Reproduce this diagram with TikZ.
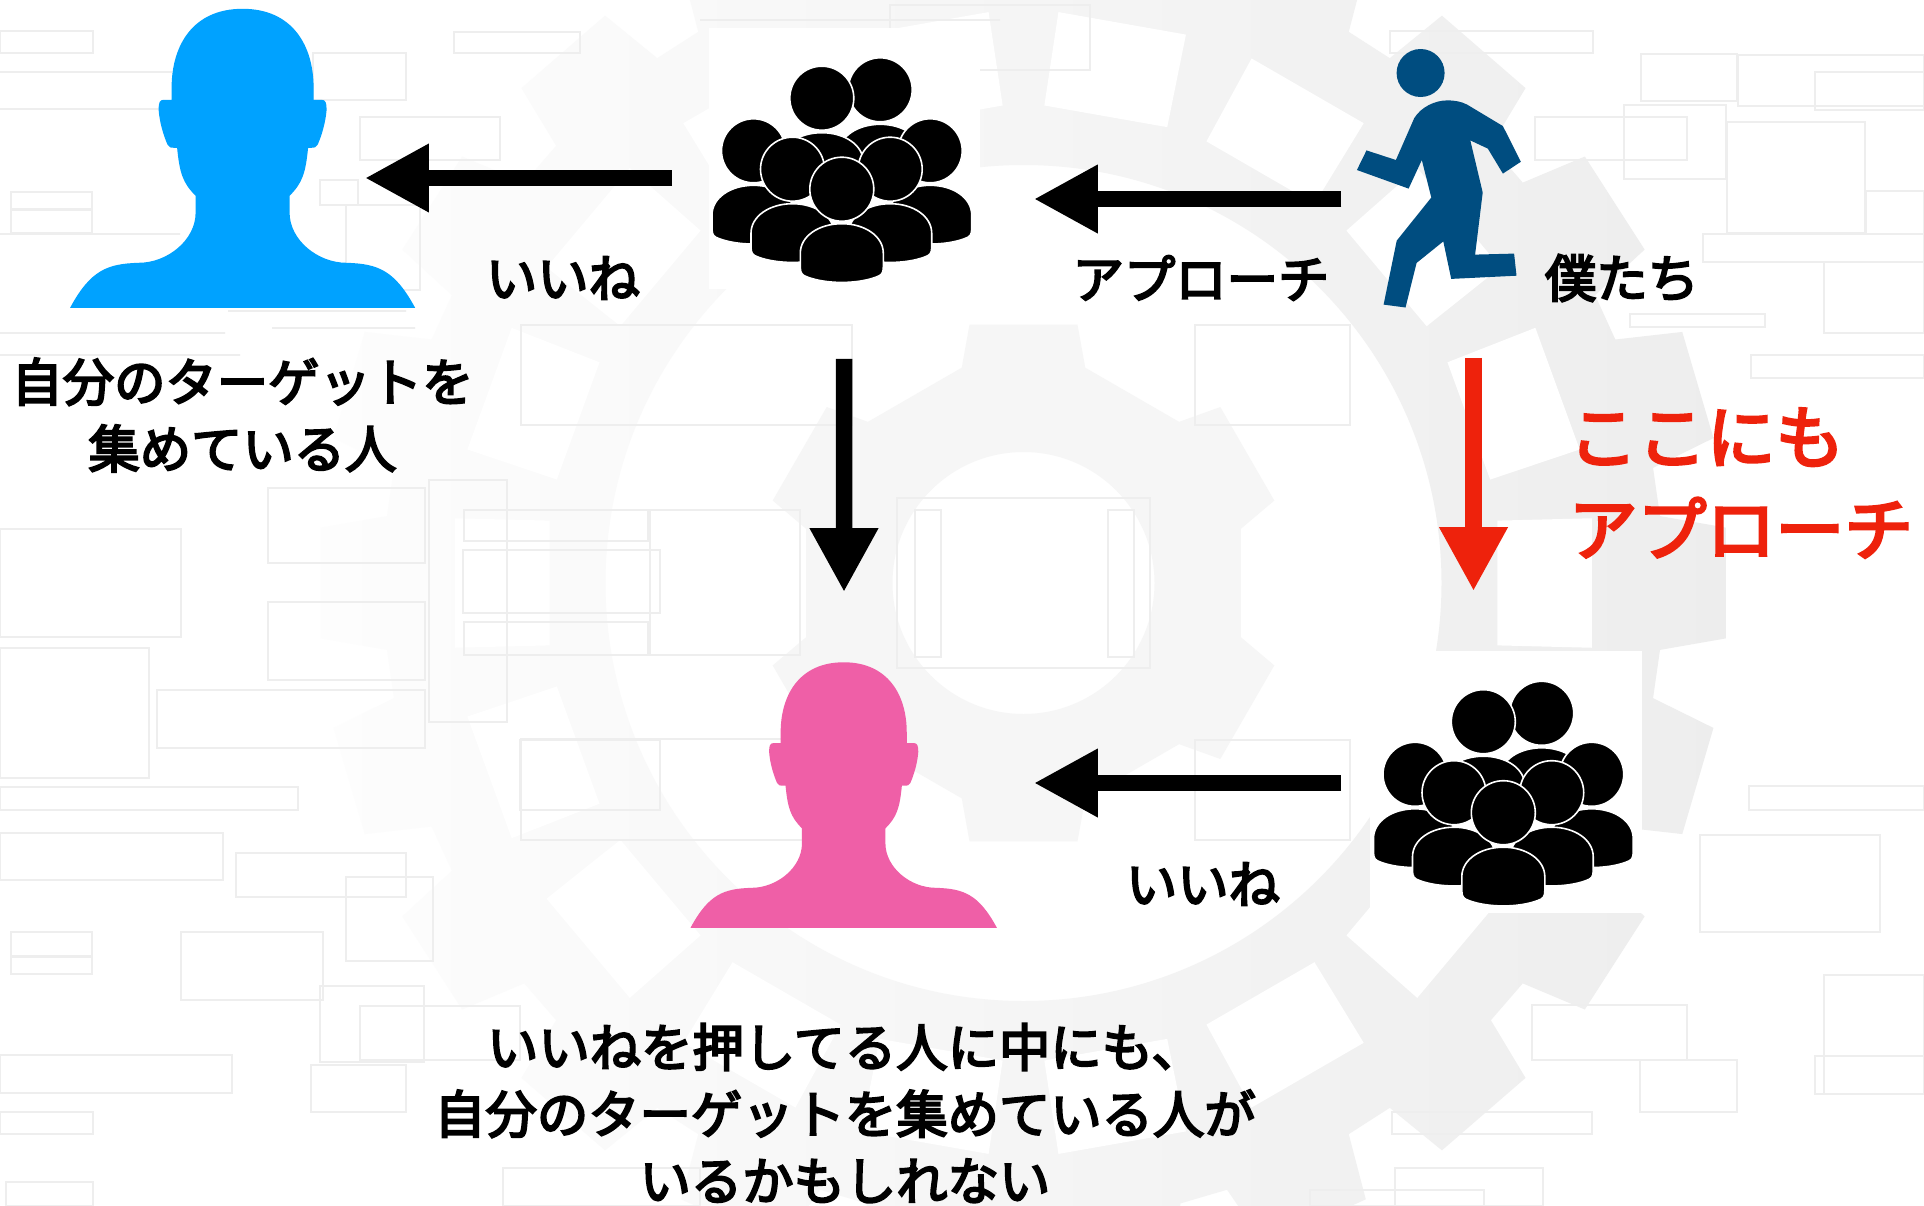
\documentclass[tikz,border=0pt]{standalone}
\usepackage{fontspec}
\usepackage{xcolor}
\usetikzlibrary{positioning,calc,arrows.meta}
\setmainfont{Noto Sans CJK JP}[FakeBold=4]
\definecolor{headblue}{HTML}{00A2FF}
\definecolor{headpink}{HTML}{EF5FA7}
\definecolor{runnerblue}{HTML}{004D80}
\definecolor{alertred}{HTML}{EE220C}
\definecolor{bgline}{HTML}{EEEEEE}
\tikzset{
    pics/personhead/.style={code={
        \fill[pic actions] (0,-299) .. controls (50,-299) and (71,-262) .. (71,-220) -- (71,-208)
            -- (79,-208) .. controls (83,-208) and (84,-205) .. (84,-198) .. controls (83,-185) and (79,-172) .. (75,-163)
            .. controls (74,-160) and (72,-160) .. (65.5,-160) .. controls (63,-135) and (60,-125) .. (47,-112)
            -- (47,-95) .. controls (47,-68) and (75,-45) .. (104,-45) .. controls (135,-44) and (152,-38) .. (172.5,0)
            -- (-172.5,0) .. controls (-152,-38) and (-135,-44) .. (-104,-45) .. controls (-75,-45) and (-47,-68) .. (-47,-95)
            -- (-47,-112) .. controls (-60,-125) and (-63,-135) .. (-65.5,-160) .. controls (-72,-160) and (-74,-160) .. (-75,-163)
            .. controls (-79,-172) and (-83,-185) .. (-84,-198) .. controls (-84,-205) and (-83,-208) .. (-79,-208)
            -- (-71,-208) -- (-71,-220) .. controls (-71,-262) and (-50,-299) .. (0,-299) -- cycle;
    }},
    pics/crowdman/.style={code={
        \filldraw[draw=white, fill=black, line width=0.016cm] (0,0) circle (32);
        \filldraw[draw=white, fill=black, line width=0.016cm] (-41.5,64) .. controls (-41.5,47) and (-23,34.5) .. (0,34.5)
            .. controls (23,34.5) and (41.5,47) .. (41.5,64) -- (41.5,78) .. controls (41.5,84) and (40,86) .. (34,88)
            .. controls (15,95) and (-15,95) .. (-34,88) .. controls (-40,86) and (-41.5,84) .. (-41.5,78) -- cycle;
    }},
    pics/crowd/.style={code={
        \foreach \hx/\hy in {35.7/-68.7, -22.7/-60.3, -91/-7.7, 85.7/-7.7, -52/10.7, 45.7/10.7, -2.7/30.7}
            \pic at (\hx,\hy) {crowdman};
    }}
}
\begin{document}
\begin{tikzpicture}[
    x=0.01cm, y=-0.01cm,
    crowdbox/.style={rectangle, fill=white, inner sep=0pt, minimum width=2.71cm, minimum height=2.61cm},
    figbox/.style={rectangle, inner sep=0pt},
    arrow/.style={-{Triangle[length=0.64cm, width=0.64cm]}, line width=0.165cm},
    label/.style={font=\fontsize{14.6}{19}\selectfont, align=center, inner sep=0pt},
    redlabel/.style={font=\fontsize{19.6}{26.2}\selectfont, align=left, inner sep=0pt, text=alertred},
    bgrect/.style={draw=bgline, line width=0.011cm}
]
    \useasboundingbox (0,0) rectangle (1924,1206);
    \clip (0,0) rectangle (1924,1206);
    \fill[white] (0,0) rectangle (1924,1206);

    % gears behind everything
    \begin{scope}[shift={(1023.5,583)}]
        \shade[even odd rule, left color=black!0.8, right color=black!7]
            (-6:640) \foreach \a [evaluate=\a as \t using \a*360/22] in {0,...,21} {
                -- (\t-6:640) -- (\t-4.5:705) -- (\t+4.5:705) -- (\t+6:640) -- (\t+10.36:640)
            } -- cycle (0,0) circle (418);
        \foreach \a in {0,20,...,340}
            \fill[white] (\a-7.5:478) -- (\a+7.5:478) -- (\a+6.5:572) -- (\a-6.5:572) -- cycle;
        \fill[even odd rule, black!3.5]
            (14:224) \foreach \t in {30,90,150,210,270,330} {
                -- (\t-16:224) -- (\t-11.8:264) -- (\t+11.8:264) -- (\t+16:224) -- (\t+44:224)
            } -- cycle (0,0) circle (131);
    \end{scope}

    % circuit lines
    \foreach \xa/\ya/\xb/\yb in {
        0/31/93/53, 313/53/406/100, 454/32/580/53, 360/117/500/160, 320/180/358/205,
        11/192/92/209, 11/210/92/233, 0/72/172/72, 0/109/160/109, 0/234/180/234,
        0/333/225/333, 228/311/406/311, 272/328/415/328, 0/355/240/355, 346/205/420/290,
        0/529/181/637, 0/648/149/778, 268/488/425/563, 268/602/425/680, 157/690/425/748,
        0/787/298/810, 0/833/223/880, 236/853/406/897, 346/877/433/961, 181/932/323/1000,
        11/932/92/956, 11/957/92/974, 0/1055/232/1093, 311/1065/406/1112, 360/1006/520/1060,
        320/986/424/1062, 0/1112/93/1134, 6/1182/93/1206, 503/1168/700/1206, 463/550/660/613,
        464/510/648/541, 464/622/648/655, 520/740/660/810, 429/480/507/722, 521/325/852/425,
        521/739/852/840, 650/510/800/655, 1195/325/1350/425, 1195/740/1350/840, 897/498/1150/668,
        915/510/941/657, 1108/510/1134/657, 1390/31/1593/53, 1641/54/1737/101, 1738/55/1924/106,
        1815/72/1924/110, 1624/105/1726/179, 1535/117/1687/160, 1727/122/1865/233, 1703/234/1924/262,
        1866/191/1924/234, 1824/262/1924/333, 1751/355/1924/378, 1630/314/1765/327, 1749/786/1924/810,
        1700/835/1880/932, 1824/975/1924/1094, 1532/1005/1687/1060, 1640/1060/1737/1112, 1815/1056/1924/1094,
        1395/1168/1543/1206, 1310/1190/1484/1206, 1392/1112/1592/1134, 700/20/1000/20, 890/5/1090/70
    }
        \draw[bgrect] (\xa,\ya) rectangle (\xb,\yb);

    % figures
    \node[figbox, minimum width=3.45cm, minimum height=2.99cm] (blue) at (242.6,157.5) {};
    \node[figbox, minimum width=3.06cm, minimum height=2.66cm] (pink) at (843.7,794) {};
    \node[figbox, minimum width=1.6cm, minimum height=2.58cm] (runner) at (1437,178) {};
    \node[crowdbox] (crowdA) at (844.5,158.5) {};
    \node[crowdbox] (crowdB) at (1506,782) {};

    \pic[fill=headblue] at (blue.south) {personhead};
    \pic[fill=headpink, scale=0.888] at (pink.south) {personhead};
    \pic at (crowdA) {crowd};
    \pic at (crowdB) {crowd};
    \fill[runnerblue] (1420.6,73) circle (24);
    \fill[runnerblue, line join=round] (1447.2,100.4) .. controls (1455,100.4) and (1461,101.5) .. (1467.1,104.6)
        -- (1502.9,126.1) -- (1520.8,161.8) -- (1502.9,173.6) -- (1487.8,148.6) -- (1470.3,140.4) -- (1482.7,192.5)
        -- (1475.1,254.6) -- (1514.1,253.6) -- (1516.5,275.7) -- (1451.2,278.9) -- (1443.3,241.4) -- (1416.6,262.9)
        -- (1405.5,307.5) -- (1383.6,304.6) -- (1396.7,240.7) -- (1431.3,197.5) -- (1421.8,160) -- (1408.6,188.6)
        -- (1356.9,170) -- (1366.5,150.4) -- (1395.9,160) -- (1414.2,118.2) .. controls (1421,107) and (1435,100.4) .. (1447.2,100.4) -- cycle;

    % connectors
    \draw[arrow] ([shift={(-36,19.5)}]crowdA.west) -- ([shift={(-51,20.5)}]blue.east);
    \draw[arrow] ([shift={(-15,21)}]runner.west) -- ([shift={(53,40.5)}]crowdA.east);
    \draw[arrow] ([shift={(-0.5,69)}]crowdA.south) -- ([shift={(0.3,-68)}]pink.north);
    \draw[arrow] ([shift={(-28.5,1)}]crowdB.west) -- ([shift={(36.3,-11)}]pink.east);
    \draw[arrow, alertred] ([shift={(36.5,50)}]runner.south) -- ([shift={(-32.5,-59.5)}]crowdB.north);

    % labels
    \node[label] (likeA) at (563,278) {いいね};
    \node[label] (approach) at (1201,278) {アプローチ};
    \node[label] (us) at (1622,278) {僕たち};
    \node[label] (likeB) at (1203,884) {いいね};
    \node[label] (blueText) at (242.5,415) {自分のターゲットを\\集めている人};
    \node[label] (pinkText) at (845,1113) {いいねを押してる人に中にも、\\自分のターゲットを集めている人が\\いるかもしれない};
    \node[redlabel, anchor=west] (redText) at (1568,483) {ここにも\\アプローチ};
\end{tikzpicture}
\end{document}
